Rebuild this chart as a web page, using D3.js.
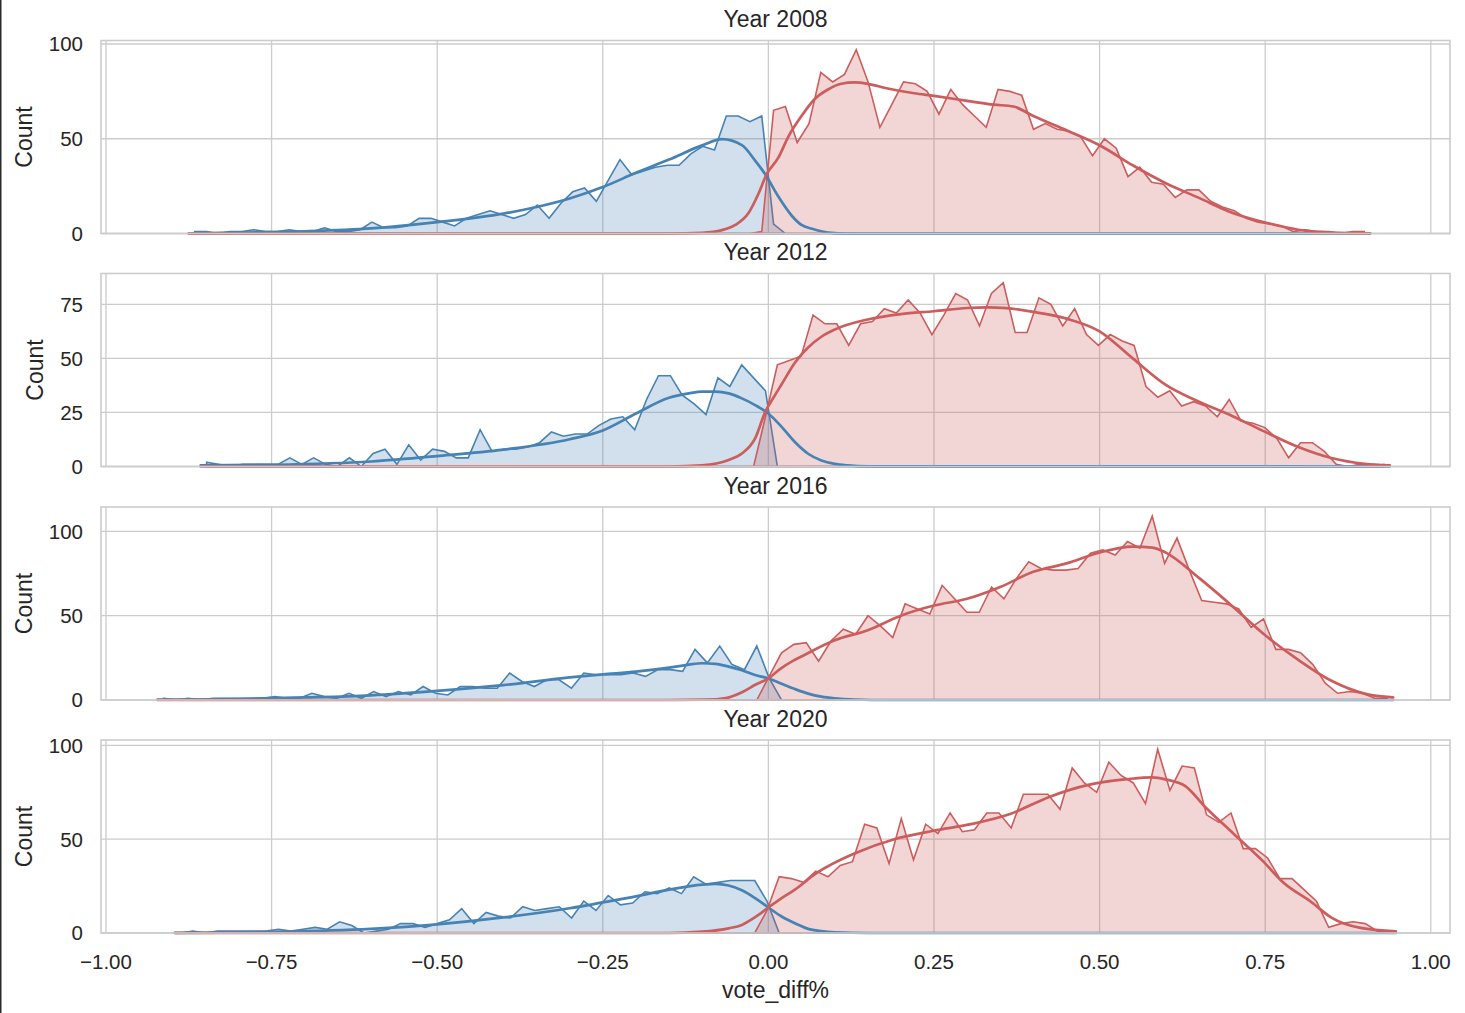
<!DOCTYPE html>
<html><head><meta charset="utf-8">
<script src="https://cdn.jsdelivr.net/npm/d3@7"></script>
<style>
html,body{margin:0;padding:0;background:#fff;}
svg{display:block;font-family:"Liberation Sans",Arial,Helvetica,sans-serif;}
</style></head><body>
<svg id="chart" width="1465" height="1013"></svg>
<script>
// ---------------- data ----------------
const years = ["2008", "2012", "2016", "2020"];
const binCount = 100;
// histogram range (first and last bin edge) for each year
const binEdges = [[-0.875, 0.9085], [-0.857, 0.938], [-0.9223, 0.9433], [-0.8962, 0.9472]];

// county counts per bin; Democratic counts start at the first bin,
// Republican counts end at the last bin (all other bins are zero)
const demCounts2008 = [1,1,0,1,1,2,1,1,2,1,1,3,1,1,2,6,3,3,4,8,8,6,4,8,10,12,10,8,10,15,8,16,22,24,17,28,39,31,33,35,36,36,42,46,44,62,62,59,62,5,0];
const repCounts2008 = [1,65,67,48,58,85,80,84,97,80,56,68,80,79,75,63,76,68,62,56,76,75,73,55,58,55,54,51,41,50,45,30,35,27,26,19,23,23,17,14,12,8,6,5,4,1,2,1,1,0,1,1];

const demCounts2012 = [2,1,0,1,1,1,1,4,1,4,1,0,4,0,6,8,1,10,3,8,7,4,4,17,7,8,8,9,11,16,14,15,15,19,22,23,17,31,42,42,33,29,24,41,37,47,41,35,0];
const repCounts2012 = [0,23,47,49,51,70,66,66,56,66,67,73,71,77,71,61,70,80,77,65,80,85,62,62,78,75,65,73,61,56,61,58,56,37,32,35,28,30,28,23,31,21,20,18,13,4,11,11,7,1,0,1,0,1];

const demCounts2016 = [1,0,1,0,1,1,1,1,1,2,1,1,4,2,1,4,1,5,2,5,3,8,4,3,8,8,7,7,16,11,8,12,12,7,16,15,15,15,16,14,18,18,17,30,22,32,21,18,32,13,0];
const repCounts2016 = [0,14,28,33,34,23,35,42,39,50,44,37,57,54,51,68,60,52,52,67,60,72,82,78,77,77,78,87,89,86,94,90,109,81,96,77,59,58,57,54,43,48,30,30,28,21,10,4,5,4,1,1];

const demCounts2020 = [0,1,0,1,1,1,1,1,2,1,2,3,2,6,4,0,1,2,5,5,3,5,7,13,5,11,9,8,14,12,13,14,8,17,12,20,15,16,22,21,24,21,30,26,27,28,28,28,17,0];
const repCounts2020 = [12,30,29,27,33,30,36,38,58,56,37,61,39,58,53,64,54,55,64,64,56,74,74,74,66,88,80,75,91,84,80,69,98,76,89,88,63,59,64,45,45,40,29,29,23,17,3,5,6,5,1,1];

// kernel density estimates, scaled to counts: [vote_diff, count]
const demKde2008 = [[-0.875,0],[-0.8,0.5],[-0.7,1.2],[-0.6,2.7],[-0.5,6],[-0.4,10.5],[-0.35,14],[-0.3,18.5],[-0.25,24.5],[-0.2,32],[-0.15,39],[-0.1,46.5],[-0.07,49.8],[-0.04,46.6],[-0.02,38.5],[-0.005,31.4],[0.015,19.5],[0.035,9.5],[0.05,4.5],[0.066,2.5],[0.09,0.5],[0.12,0],[0.9085,0]];
const repKde2008 = [[-0.875,0],[-0.15,0],[-0.1,0.4],[-0.07,1.8],[-0.05,4.5],[-0.03,10.8],[-0.015,21],[-0.003,31],[0.015,40],[0.03,51],[0.05,62],[0.07,71],[0.09,76],[0.11,79],[0.13,79.7],[0.15,79],[0.18,76.5],[0.22,74],[0.25,72.6],[0.3,70],[0.34,68],[0.37,67],[0.4,62],[0.45,54.5],[0.5,46.6],[0.55,36],[0.6,26.5],[0.65,18.8],[0.7,11],[0.75,5.8],[0.8,2],[0.85,0.5],[0.9085,0.1]];

const demKde2012 = [[-0.857,0.5],[-0.75,0.8],[-0.6,2.3],[-0.5,4.8],[-0.4,7.8],[-0.3,12.6],[-0.25,16.7],[-0.2,24.5],[-0.15,31.8],[-0.12,33.8],[-0.1,34.6],[-0.08,34.6],[-0.06,33.8],[-0.04,31.5],[-0.02,28.4],[0,24.5],[0.02,18.3],[0.04,11.3],[0.06,5.9],[0.08,2.8],[0.1,1.2],[0.12,0.5],[0.15,0.1],[0.938,0]];
const repKde2012 = [[-0.857,0],[-0.15,0],[-0.1,0.5],[-0.06,3],[-0.04,6],[-0.02,13],[-0.005,25],[0.01,33],[0.02,38],[0.04,48],[0.06,55],[0.08,60],[0.1,63.3],[0.15,68],[0.2,70.5],[0.25,71.8],[0.3,73.3],[0.33,73.6],[0.36,73.2],[0.4,71.5],[0.45,68.4],[0.5,62.5],[0.55,50],[0.6,37.7],[0.65,29.9],[0.7,23.4],[0.75,16],[0.8,9],[0.85,3.9],[0.9,1.2],[0.938,0.5]];

const demKde2016 = [[-0.9223,0.2],[-0.8,0.6],[-0.7,1.5],[-0.6,2.8],[-0.5,5.4],[-0.4,8.8],[-0.3,13.4],[-0.25,15.2],[-0.2,16.8],[-0.15,19.2],[-0.12,21],[-0.1,21.8],[-0.08,21.4],[-0.06,19.8],[-0.04,17.6],[-0.02,14.8],[0,12.8],[0.02,9.6],[0.04,6.5],[0.06,3.8],[0.08,2],[0.1,1],[0.13,0.3],[0.18,0],[0.9433,0]];
const repKde2016 = [[-0.9223,0],[-0.15,0],[-0.094,0.2],[-0.064,1.2],[-0.039,4.8],[-0.019,9.2],[0,12.8],[0.017,18.2],[0.037,23.2],[0.05,25.8],[0.1,35.4],[0.15,41.4],[0.2,50],[0.25,56],[0.3,60],[0.35,67],[0.4,76],[0.45,81],[0.5,87.5],[0.55,91],[0.58,90.4],[0.6,87.4],[0.65,72.4],[0.7,55.8],[0.75,38.4],[0.8,23.8],[0.85,11.4],[0.9,3.8],[0.9433,1.5]];

const demKde2020 = [[-0.8962,0.1],[-0.75,0.6],[-0.6,2.2],[-0.5,4.6],[-0.4,8.3],[-0.3,13.2],[-0.25,16.3],[-0.2,19.5],[-0.15,23.1],[-0.1,25.8],[-0.08,26.2],[-0.06,25.3],[-0.04,22.8],[-0.02,18.6],[0,13.6],[0.02,8.8],[0.04,5.2],[0.06,2.2],[0.08,1],[0.1,0.4],[0.15,0],[0.9472,0]];
const repKde2020 = [[-0.8962,0],[-0.15,0],[-0.1,0.7],[-0.06,2.5],[-0.04,4.3],[-0.02,8.4],[0,13.6],[0.02,18.6],[0.04,23.1],[0.073,32],[0.132,42.7],[0.19,50],[0.249,54.5],[0.308,58.2],[0.366,63.6],[0.425,72.7],[0.483,79],[0.542,82],[0.579,83],[0.601,81.8],[0.63,78.2],[0.659,67.3],[0.703,52.7],[0.747,38.2],[0.776,27.3],[0.82,16.4],[0.85,8.2],[0.894,2.7],[0.9472,0.9]];

const demCounts = [demCounts2008, demCounts2012, demCounts2016, demCounts2020];
const repCounts = [repCounts2008, repCounts2012, repCounts2016, repCounts2020];
const demKde = [demKde2008, demKde2012, demKde2016, demKde2020];
const repKde = [repKde2008, repKde2012, repKde2016, repKde2020];

const yTicks = [[0, 50, 100], [0, 25, 50, 75], [0, 50, 100], [0, 50, 100]];
const xTicks = [-1, -0.75, -0.5, -0.25, 0, 0.25, 0.5, 0.75, 1];
const xLimits = [-1.0075, 1.029];

// ---------------- layout ----------------
const W = 1465, H = 1013;
const plotLeft = 101, plotRight = 1450;
const panelTops = [40.5, 273.5, 507, 740];
const panelH = 193;
const demColor = "steelblue", repColor = "indianred";
const gridColor = "#cccccc", textColor = "#262626";
const tickFont = 20.5, labelFont = 23;

const svg = d3.select("#chart");
svg.append("rect").attr("width", W).attr("height", H).attr("fill", "#fff");
// thin dark frame line at the far left edge
svg.append("rect").attr("x", 0).attr("y", 0).attr("width", 1.5).attr("height", H).attr("fill", "#2a2a2a");

const x = d3.scaleLinear().domain(xLimits).range([plotLeft, plotRight]);
const fmt = d3.format(".2f");

function fullBins(counts, fromLeft) {
  const arr = new Array(binCount).fill(0);
  if (fromLeft) counts.forEach((c, i) => { arr[i] = c; });
  else counts.forEach((c, i) => { arr[binCount - counts.length + i] = c; });
  return arr;
}

years.forEach((yr, p) => {
  const top = panelTops[p], bottom = top + panelH;
  const [lo, hi] = binEdges[p];
  const w = (hi - lo) / binCount;
  const dem = fullBins(demCounts[p], true).map((c, i) => ({ x: lo + (i + 0.5) * w, c }));
  const rep = fullBins(repCounts[p], false).map((c, i) => ({ x: lo + (i + 0.5) * w, c }));
  const maxC = d3.max(dem.concat(rep), d => d.c);
  const y = d3.scaleLinear().domain([0, maxC * 1.05]).range([bottom, top]);

  const g = svg.append("g");

  // grid
  g.append("g").selectAll("line").data(xTicks).join("line")
    .attr("x1", d => x(d)).attr("x2", d => x(d))
    .attr("y1", top).attr("y2", bottom)
    .attr("stroke", gridColor).attr("stroke-width", 1.3);
  g.append("g").selectAll("line").data(yTicks[p]).join("line")
    .attr("x1", plotLeft).attr("x2", plotRight)
    .attr("y1", d => y(d)).attr("y2", d => y(d))
    .attr("stroke", gridColor).attr("stroke-width", 1.3);

  // histogram polygons
  const area = d3.area().x(d => x(d.x)).y0(y(0)).y1(d => y(d.c));
  [[dem, demColor], [rep, repColor]].forEach(([data, col]) => {
    g.append("path").datum(data).attr("d", area)
      .attr("fill", col).attr("fill-opacity", 0.25)
      .attr("stroke", col).attr("stroke-width", 1.6).attr("stroke-linejoin", "miter");
  });

  // density curves
  const line = d3.line().x(d => x(d[0])).y(d => y(d[1])).curve(d3.curveMonotoneX);
  [[demKde[p], demColor], [repKde[p], repColor]].forEach(([data, col]) => {
    g.append("path").datum(data).attr("d", line)
      .attr("fill", "none").attr("stroke", col).attr("stroke-width", 2.7)
      .attr("stroke-linecap", "round");
  });

  // frame
  g.append("rect").attr("x", plotLeft).attr("y", top)
    .attr("width", plotRight - plotLeft).attr("height", panelH)
    .attr("fill", "none").attr("stroke", gridColor).attr("stroke-width", 1.6);

  // y tick labels
  const yl = g.append("g").selectAll("text").data(yTicks[p]).join("text")
    .attr("x", 83).attr("y", d => y(d)).attr("dy", "0.36em")
    .attr("text-anchor", "end").attr("font-size", tickFont).attr("fill", textColor)
    .text(d => d);
  let maxW = 0;
  yl.each(function () { maxW = Math.max(maxW, this.getComputedTextLength()); });

  // y axis label
  const lx = 83 - maxW - 25;
  g.append("text")
    .attr("transform", `translate(${lx},${(top + bottom) / 2}) rotate(-90)`)
    .attr("text-anchor", "middle").attr("dy", "0.35em")
    .attr("font-size", labelFont).attr("fill", textColor).text("Count");

  // title
  g.append("text").attr("x", (plotLeft + plotRight) / 2).attr("y", top - 13.5)
    .attr("text-anchor", "middle").attr("font-size", labelFont).attr("fill", textColor)
    .text("Year " + yr);

  // x tick labels on the bottom panel only
  if (p === years.length - 1) {
    g.append("g").selectAll("text").data(xTicks).join("text")
      .attr("x", d => x(d)).attr("y", bottom + 36)
      .attr("text-anchor", "middle").attr("font-size", tickFont).attr("fill", textColor)
      .text(d => fmt(d));
    g.append("text").attr("x", (plotLeft + plotRight) / 2).attr("y", bottom + 65)
      .attr("text-anchor", "middle").attr("font-size", labelFont).attr("fill", textColor)
      .text("vote_diff%");
  }
});
</script>
</body></html>
